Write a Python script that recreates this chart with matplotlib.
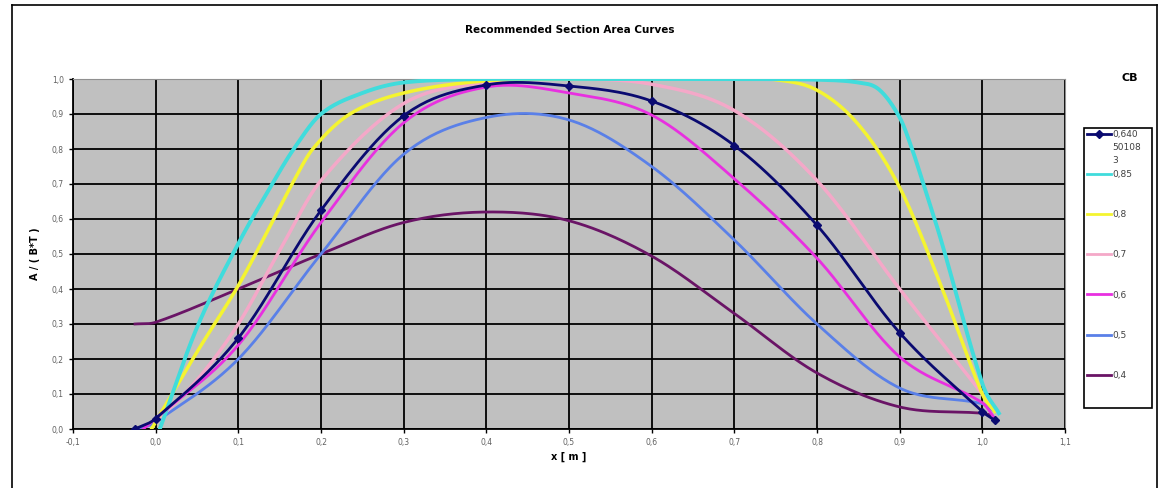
import numpy as np
import matplotlib.pyplot as plt
from matplotlib.lines import Line2D
from matplotlib.patches import Rectangle
from matplotlib.ticker import FuncFormatter

############################################
# data  (x, A/(B*T))

x_cb064 = [-0.025, 0.0, 0.1, 0.2, 0.3, 0.4, 0.5, 0.6, 0.7, 0.8, 0.9, 1.0, 1.015]
y_cb064 = [0.0, 0.03, 0.26, 0.625, 0.895, 0.983, 0.98, 0.937, 0.81, 0.582, 0.275, 0.05, 0.025]

x_cb085 = [0.005, 0.05, 0.1, 0.141, 0.167, 0.2, 0.25, 0.3, 0.4, 0.5, 0.6, 0.7, 0.8, 0.85, 0.875,
           0.9, 0.915, 0.93, 0.95, 1.0, 1.02]
y_cb085 = [0.0, 0.29, 0.53, 0.70, 0.80, 0.90, 0.96, 0.99, 1.0, 1.0, 1.0, 1.0, 0.998, 0.99, 0.97,
           0.89, 0.80, 0.69, 0.54, 0.13, 0.045]

x_cb080 = [-0.005, 0.05, 0.1, 0.143, 0.165, 0.19, 0.235, 0.3, 0.4, 0.5, 0.6, 0.7, 0.75, 0.8, 0.85, 0.9, 0.95, 1.0, 1.015]
y_cb080 = [0.0, 0.22, 0.41, 0.60, 0.70, 0.80, 0.90, 0.96, 0.995, 1.0, 1.0, 1.0, 0.998, 0.968, 0.87, 0.69, 0.41, 0.10, 0.05]

x_cb070 = [0.0, 0.05, 0.1, 0.15, 0.2, 0.3, 0.4, 0.5, 0.6, 0.7, 0.8, 0.9, 1.0, 1.015]
y_cb070 = [0.02, 0.14, 0.30, 0.51, 0.71, 0.93, 0.99, 1.0, 0.985, 0.91, 0.71, 0.40, 0.10, 0.05]

x_cb060 = [-0.015, 0.0, 0.1, 0.2, 0.3, 0.4, 0.5, 0.6, 0.7, 0.8, 0.9, 1.0, 1.015]
y_cb060 = [0.0, 0.03, 0.24, 0.59, 0.875, 0.977, 0.96, 0.897, 0.715, 0.488, 0.206, 0.075, 0.03]

x_cb050 = [-0.02, 0.0, 0.1, 0.2, 0.3, 0.4, 0.5, 0.6, 0.7, 0.8, 0.9, 1.0, 1.015]
y_cb050 = [0.0, 0.02, 0.20, 0.50, 0.785, 0.89, 0.883, 0.75, 0.54, 0.30, 0.117, 0.072, 0.05]

x_cb040 = [-0.025, 0.0, 0.1, 0.2, 0.3, 0.4, 0.5, 0.6, 0.7, 0.8, 0.9, 1.0, 1.01]
y_cb040 = [0.30, 0.305, 0.40, 0.50, 0.59, 0.62, 0.595, 0.494, 0.33, 0.16, 0.063, 0.045, 0.04]

labels = ['0,640', '0,85', '0,8', '0,7', '0,6', '0,5', '0,4']
label_rest = '50108\n3'   # the first CB value wraps over three lines
colors = ['#0a0a70', '#40dcdc', '#f4f430', '#f4a8c8', '#e830e0', '#5a80e8', '#6a1466']

series = [(x_cb064, y_cb064), (x_cb085, y_cb085), (x_cb080, y_cb080),
          (x_cb070, y_cb070), (x_cb060, y_cb060), (x_cb050, y_cb050),
          (x_cb040, y_cb040)]


def smooth(xs, ys, n=25):
    # hermite spline with finite-difference tangents, like excel's smoothed line
    x = np.asarray(xs, float)
    y = np.asarray(ys, float)
    m = np.zeros_like(y)
    m[1:-1] = (y[2:] - y[:-2]) / (x[2:] - x[:-2])
    m[0] = (y[1] - y[0]) / (x[1] - x[0])
    m[-1] = (y[-1] - y[-2]) / (x[-1] - x[-2])
    t = np.linspace(0, 1, n, endpoint=False)
    h00 = 2 * t**3 - 3 * t**2 + 1
    h10 = t**3 - 2 * t**2 + t
    h01 = -2 * t**3 + 3 * t**2
    h11 = t**3 - t**2
    ox, oy = [], []
    for i in range(len(x) - 1):
        h = x[i + 1] - x[i]
        ox.append(x[i] + t * h)
        oy.append(h00 * y[i] + h10 * h * m[i] + h01 * y[i + 1] + h11 * h * m[i + 1])
    ox.append([x[-1]])
    oy.append([y[-1]])
    return np.concatenate(ox), np.concatenate(oy)


#############################################
## Plotting Data
W, H = 1161, 488
fig = plt.figure(figsize=(W / 100, H / 100), dpi=100)
ax = fig.add_axes([73 / W, 1 - 429 / H, (1065 - 73) / W, (429 - 79) / H])
ax.set_facecolor('#c0c0c0')

draw_order = [6, 5, 3, 2, 1, 4, 0]
for i in draw_order:
    xs, ys = series[i]
    sx, sy = smooth(xs, ys)
    lw = 2.8 if i == 1 else (2.5 if i in (2, 3) else 2.0)
    ax.plot(sx, sy, color=colors[i], lw=lw, zorder=3 + (i == 0))
    if i == 0:
        ax.plot(xs, ys, 'D', color=colors[i], ms=4.5, zorder=5)

handles = []
for i in range(7):
    if i == 0:
        h = Line2D([], [], color=colors[i], lw=2, marker='D', ms=4)
    else:
        h = Line2D([], [], color=colors[i], lw=2)
    handles.append(h)

ax.set_xlim(-0.1, 1.1)
ax.set_ylim(0.0, 1.0)
ax.set_xticks(np.arange(-0.1, 1.1001, 0.1))
ax.set_yticks(np.arange(0.0, 1.0001, 0.1))
fmt = FuncFormatter(lambda v, p: ('%.1f' % v).replace('.', ',').replace('-0,0', '0,0'))
ax.xaxis.set_major_formatter(fmt)
ax.yaxis.set_major_formatter(fmt)
ax.tick_params(labelsize=5.5, labelcolor='#606060', length=3, width=1, color='black')
ax.grid(True, color='black', lw=1.3, zorder=1)
ax.set_axisbelow(True)
for s in ['top', 'right']:
    ax.spines[s].set_color('#909090')
for s in ['left', 'bottom']:
    ax.spines[s].set_color('black')
    ax.spines[s].set_linewidth(1.3)

fig.text(570 / W, 1 - 30 / H, 'Recommended Section Area Curves',
         ha='center', va='center', fontsize=7.5, fontweight='bold')
fig.text(569 / W, 1 - 457 / H, 'x [ m ]', ha='center', va='center',
         fontsize=7, fontweight='bold')
fig.text(35 / W, 1 - 254 / H, 'A / ( B*T )', ha='center', va='center',
         fontsize=7, fontweight='bold', rotation=90)
fig.text(1130 / W, 1 - 78 / H, 'CB', ha='center', va='center',
         fontsize=8, fontweight='bold')

# legend, frame drawn separately
leg = fig.legend(handles, labels, loc='upper left',
                 bbox_to_anchor=(1087 / W, 1 - 130 / H),
                 fontsize=6.5, frameon=False,
                 handlelength=2.7, handletextpad=0.15, labelspacing=3.45,
                 borderpad=0, borderaxespad=0)
for t in leg.get_texts():
    t.set_color('#404040')
fig.add_artist(Rectangle((1084 / W, 1 - 408 / H), 68 / W, 280 / H,
                         transform=fig.transFigure, fill=False,
                         edgecolor='black', lw=1.2))

fig.canvas.draw()
bb = leg.get_texts()[0].get_window_extent().transformed(fig.transFigure.inverted())
fig.text(bb.x0, bb.y0 - 4 / H, label_rest, ha='left', va='top',
         fontsize=6.5, color='#404040', linespacing=1.6)

# outer chart border
for (x0, y0, x1, y1) in [(12, 5, 1157, 5), (12, 5, 12, 488), (1157, 5, 1157, 488)]:
    fig.add_artist(Line2D([x0 / W, x1 / W], [1 - y0 / H, 1 - y1 / H],
                          color='black', lw=1.2))

fig.savefig('out.png', dpi=100)
